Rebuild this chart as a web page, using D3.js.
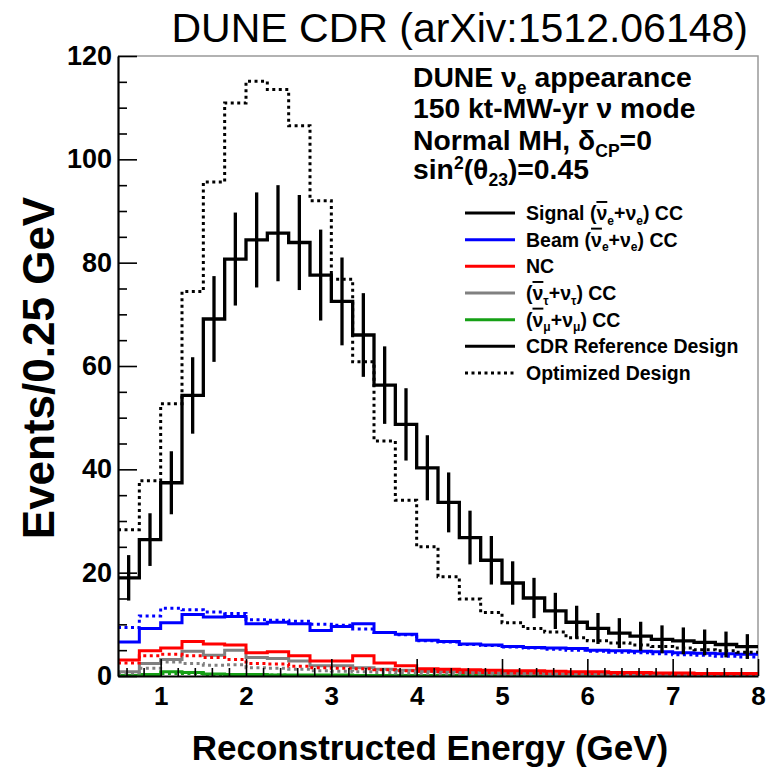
<!DOCTYPE html>
<html>
<head>
<meta charset="utf-8">
<script src="https://cdn.jsdelivr.net/npm/d3@7"></script>
<style>
  body { margin: 0; background: #fff; }
  svg { display: block; font-family: "Liberation Sans", Arial, sans-serif; }
  .bold { font-weight: bold; }
</style>
</head>
<body>
<div id="chart"></div>
<script>
// lower edges of the 0.25 GeV bins
const energyLow = [0.5, 0.75, 1, 1.25, 1.5, 1.75, 2, 2.25, 2.5, 2.75, 3, 3.25, 3.5, 3.75, 4,
  4.25, 4.5, 4.75, 5, 5.25, 5.5, 5.75, 6, 6.25, 6.5, 6.75, 7, 7.25, 7.5, 7.75]
const energyHigh = 8

// CDR reference design (solid)
const signalRef = [19.0, 26.4, 37.4, 54.3, 69.1, 80.7, 84.4, 85.7, 83.9, 77.6, 72.5, 66.0, 56.3, 48.7, 40.3,
  33.6, 26.8, 22.4, 18.0, 15.1, 12.6, 10.4, 9.2, 8.3, 7.7, 7.1, 6.8, 6.5, 6.1, 5.7]
const signalRefErr = [4.4, 5.1, 6.1, 7.4, 8.3, 9.0, 9.2, 9.3, 9.2, 8.8, 8.5, 8.1, 7.5, 7.0, 6.3,
  5.8, 5.2, 4.7, 4.2, 3.9, 3.5, 3.2, 3.0, 2.9, 2.8, 2.7, 2.6, 2.5, 2.5, 2.4]
const beamRef = [6.6, 9.2, 10.3, 11.9, 11.4, 11.5, 10.1, 10.4, 10.1, 8.8, 9.6, 10.1, 8.4, 8.1, 6.9,
  6.7, 6.2, 6.0, 5.7, 5.5, 5.4, 5.3, 5.0, 4.9, 4.8, 4.7, 4.5, 4.4, 4.3, 4.2]
const ncRef = [3.1, 4.9, 5.4, 6.7, 6.2, 6.0, 4.5, 4.7, 3.9, 2.9, 2.9, 3.9, 2.5, 2.0, 1.4,
  1.3, 1.2, 1.1, 1.0, 1.0, 0.9, 0.8, 0.8, 0.7, 0.7, 0.6, 0.6, 0.5, 0.5, 0.5]
const nutauRef = [0.8, 2.4, 3.2, 4.8, 4.0, 5.0, 3.6, 3.4, 2.9, 2.0, 2.0, 1.6, 1.3, 1.1, 0.9,
  0.8, 0.7, 0.6, 0.5, 0.5, 0.4, 0.4, 0.4, 0.3, 0.3, 0.3, 0.3, 0.2, 0.2, 0.2]
const numuRef = [0.1, 0.3, 0.8, 0.7, 0.4, 0.3, 0.3, 0.2, 0.2, 0.2, 0.2, 0.1, 0.1, 0.1, 0.1,
  0.1, 0.1, 0.1, 0.1, 0.1, 0.1, 0.1, 0.1, 0.1, 0.1, 0.1, 0.1, 0.1, 0.1, 0.1]

// optimized design (dotted)
const signalOpt = [28.3, 37.8, 52.7, 74.4, 95.6, 110.9, 115.1, 113.5, 106.5, 92.0, 76.8, 60.8, 45.5, 34.0, 25.0,
  19.2, 14.9, 12.3, 10.3, 9.2, 8.5, 7.4, 6.8, 6.4, 6.0, 5.7, 5.4, 5.1, 4.9, 4.6]
const beamOpt = [9.4, 11.6, 13.1, 12.8, 12.4, 12.1, 10.9, 10.8, 10.6, 10.0, 9.8, 9.1, 8.4, 8.0, 6.8,
  6.6, 6.1, 5.9, 5.6, 5.4, 5.2, 5.0, 4.8, 4.6, 4.5, 4.3, 4.1, 4.0, 3.8, 3.7]
const ncOpt = [2.5, 3.9, 4.2, 3.9, 3.6, 3.2, 2.4, 2.3, 1.9, 1.6, 1.5, 1.4, 1.2, 1.0, 0.9,
  0.8, 0.7, 0.7, 0.6, 0.6, 0.5, 0.5, 0.5, 0.4, 0.4, 0.4, 0.3, 0.3, 0.3, 0.3]
const nutauOpt = [0.6, 1.5, 2.7, 2.4, 2.1, 2.2, 1.6, 1.5, 1.3, 1.0, 0.9, 0.8, 0.7, 0.6, 0.5,
  0.4, 0.4, 0.3, 0.3, 0.3, 0.2, 0.2, 0.2, 0.2, 0.2, 0.1, 0.1, 0.1, 0.1, 0.1]
const numuOpt = [0.1, 0.2, 0.5, 0.5, 0.3, 0.2, 0.2, 0.2, 0.1, 0.1, 0.1, 0.1, 0.1, 0.1, 0.1,
  0.1, 0.1, 0.1, 0.1, 0.1, 0.1, 0.1, 0.1, 0.1, 0.1, 0.1, 0.1, 0.1, 0.1, 0.1]

const yTicks = [0, 20, 40, 60, 80, 100, 120]
const xTicks = [1, 2, 3, 4, 5, 6, 7, 8]

const COLORS = {
  signal: '#000',
  beam: '#0000ff',
  nc: '#ff0000',
  nutau: '#808080',
  numu: '#16a016'
}

const W = 773, H = 769
const svg = d3.select('#chart').append('svg').attr('width', W).attr('height', H)
svg.append('rect').attr('width', W).attr('height', H).attr('fill', '#fff')

const x = d3.scaleLinear().domain([0.5, energyHigh]).range([118, 758])
const y = d3.scaleLinear().domain([0, 120]).range([676, 56])

// frame (top / right)
svg.append('path')
  .attr('d', `M${x.range()[0]},${y(120)}H${x.range()[1]}V${y(0)}`)
  .attr('fill', 'none').attr('stroke', '#999').attr('stroke-width', 1.5)

// histograms
const plot = svg.append('g')
const stepLine = d3.line().curve(d3.curveStepAfter).x(d => x(d[0])).y(d => y(d[1]))
const drawHist = (vals, color, dotted, width = 3) => {
  const pts = energyLow.map((e, i) => [e, vals[i]])
  pts.push([energyHigh, vals[vals.length - 1]])
  plot.append('path')
    .attr('d', stepLine(pts))
    .attr('fill', 'none')
    .attr('stroke', color)
    .attr('stroke-width', width)
    .attr('stroke-dasharray', dotted ? '3,3.5' : null)
}

drawHist(numuOpt, COLORS.numu, true)
drawHist(numuRef, COLORS.numu, false)
drawHist(nutauOpt, COLORS.nutau, true)
drawHist(nutauRef, COLORS.nutau, false)
drawHist(ncOpt, COLORS.nc, true)
drawHist(ncRef, COLORS.nc, false)
drawHist(beamOpt, COLORS.beam, true)
drawHist(beamRef, COLORS.beam, false)
drawHist(signalOpt, COLORS.signal, true)
drawHist(signalRef, COLORS.signal, false, 3.3)

// error bars on the reference signal, at bin centres
const binCentre = i => (energyLow[i] + (energyLow[i + 1] ?? energyHigh)) / 2
plot.selectAll('line.err')
  .data(energyLow)
  .join('line')
  .attr('class', 'err')
  .attr('x1', (e, i) => x(binCentre(i)))
  .attr('x2', (e, i) => x(binCentre(i)))
  .attr('y1', (e, i) => y(signalRef[i] - signalRefErr[i]))
  .attr('y2', (e, i) => y(signalRef[i] + signalRefErr[i]))
  .attr('stroke', '#000')
  .attr('stroke-width', 3.3)

// axes
const yAxis = svg.append('g')
  .attr('transform', `translate(${x.range()[0]},0)`)
  .call(d3.axisLeft(y).tickValues(yTicks).tickSize(-19).tickSizeOuter(0).tickPadding(6))
svg.append('g')
  .attr('transform', `translate(${x.range()[0]},0)`)
  .call(d3.axisLeft(y).tickValues(d3.range(0, 121, 5).filter(v => v % 20)).tickSize(-9).tickSizeOuter(0).tickFormat(''))
  .call(g => g.select('.domain').remove())

const xAxis = svg.append('g')
  .attr('transform', `translate(0,${y(0)})`)
  .call(d3.axisBottom(x).tickValues(xTicks).tickSize(-17).tickSizeOuter(0).tickPadding(11))
svg.append('g')
  .attr('transform', `translate(0,${y(0)})`)
  .call(d3.axisBottom(x).tickValues(d3.range(0.6, 8, 0.2).filter(v => Math.abs(v - Math.round(v)) > 0.05)).tickSize(-8).tickSizeOuter(0).tickFormat(''))
  .call(g => g.select('.domain').remove())

svg.selectAll('.tick line').attr('stroke', '#000').attr('stroke-width', 1.6)
svg.selectAll('.domain').attr('stroke', '#000').attr('stroke-width', 2.2)
yAxis.selectAll('text').attr('class', 'bold').style('font-size', '27px').attr('fill', '#000')
  .style('font-family', '"Liberation Sans", Arial, sans-serif')
xAxis.selectAll('text').attr('class', 'bold').style('font-size', '26px').attr('fill', '#000')
  .style('font-family', '"Liberation Sans", Arial, sans-serif')

// axis titles
svg.append('text')
  .attr('class', 'bold')
  .attr('transform', 'translate(54,368) rotate(-90)')
  .attr('text-anchor', 'middle')
  .style('font-size', '44px')
  .text('Events/0.25 GeV')

svg.append('text')
  .attr('class', 'bold')
  .attr('x', 430).attr('y', 760)
  .attr('text-anchor', 'middle')
  .style('font-size', '35px')
  .text('Reconstructed Energy (GeV)')

// top title
svg.append('text')
  .attr('x', 748).attr('y', 42)
  .attr('text-anchor', 'end')
  .style('font-size', '41px')
  .text('DUNE CDR (arXiv:1512.06148)')

// rich text helper: parts with sub / sup / bar
const richText = (g, px, py, size, parts) => {
  const t = g.append('text').attr('class', 'bold').attr('x', px).attr('y', py).style('font-size', size + 'px')
  let shift = 0
  parts.forEach(p => {
    const target = p.sub ? size * 0.24 : p.sup ? -size * 0.36 : 0
    const ts = t.append('tspan').attr('dy', target - shift).text(p.t)
    if (p.sub || p.sup) ts.style('font-size', (size * 0.62) + 'px')
    if (p.bar) ts.style('text-decoration', 'overline')
    shift = target
  })
  return t
}

const legend = svg.append('g')
const headerLines = [
  [{t: 'DUNE ν'}, {t: 'e', sub: true}, {t: ' appearance'}],
  [{t: '150 kt-MW-yr ν mode'}],
  [{t: 'Normal MH, δ'}, {t: 'CP', sub: true}, {t: '=0'}],
  [{t: 'sin'}, {t: '2', sup: true}, {t: '(θ'}, {t: '23', sub: true}, {t: ')=0.45'}]
]
const headerY = [87, 118, 150, 179]
headerLines.forEach((parts, i) => richText(legend, 413, headerY[i], 28.3, parts))

const legendItems = [
  {color: COLORS.signal, parts: [{t: 'Signal ('}, {t: 'ν', bar: true}, {t: 'e', sub: true}, {t: '+ν'}, {t: 'e', sub: true}, {t: ') CC'}]},
  {color: COLORS.beam, parts: [{t: 'Beam ('}, {t: 'ν', bar: true}, {t: 'e', sub: true}, {t: '+ν'}, {t: 'e', sub: true}, {t: ') CC'}]},
  {color: COLORS.nc, parts: [{t: 'NC'}]},
  {color: COLORS.nutau, parts: [{t: '('}, {t: 'ν', bar: true}, {t: 'τ', sub: true}, {t: '+ν'}, {t: 'τ', sub: true}, {t: ') CC'}]},
  {color: COLORS.numu, parts: [{t: '('}, {t: 'ν', bar: true}, {t: 'μ', sub: true}, {t: '+ν'}, {t: 'μ', sub: true}, {t: ') CC'}]},
  {color: '#000', parts: [{t: 'CDR Reference Design'}]},
  {color: '#000', dotted: true, parts: [{t: 'Optimized Design'}]}
]
const legendY = d3.scalePoint().domain(d3.range(legendItems.length)).range([213, 373])
legendItems.forEach((it, i) => {
  const ly = legendY(i)
  legend.append('line')
    .attr('x1', 465).attr('x2', 515).attr('y1', ly).attr('y2', ly)
    .attr('stroke', it.color).attr('stroke-width', 3)
    .attr('stroke-dasharray', it.dotted ? '3,3.5' : null)
  richText(legend, 526, ly + 7, 19.5, it.parts)
})
</script>
</body>
</html>
